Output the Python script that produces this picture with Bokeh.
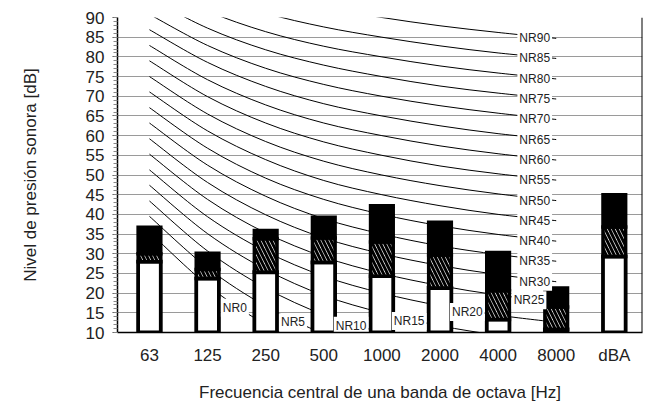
from bokeh.plotting import figure
from bokeh.models import (Range1d, SingleIntervalTicker, FixedTicker,
                          ColumnDataSource, Span)
from bokeh.core.properties import value
from bokeh.embed import file_html
from bokeh.resources import INLINE

# ---------------- data ----------------
categories = ["63", "125", "250", "500", "1000", "2000", "4000", "8000", "dBA"]
white_top = [28.0, 23.7, 25.3, 27.8, 24.3, 21.3, 13.3, 10.8, 29.3]
hatch_top = [30.0, 26.0, 33.8, 34.0, 33.0, 29.7, 20.6, 16.5, 36.8]
black_top = [36.7, 30.1, 35.9, 39.3, 42.2, 38.0, 30.3, 21.3, 45.0]

nr_bands = ["63", "125", "250", "500", "1000", "2000", "4000", "8000"]
nr_levels = [0, 5, 10, 15, 20, 25, 30, 35, 40, 45, 50, 55, 60, 65, 70, 75, 80, 85, 90]
nr_63 = [35.5, 39.5, 43.4, 47.4, 51.3, 55.3, 59.2, 63.2, 67.1, 71.1, 75.0, 79.0, 82.9, 86.9, 90.8, 94.8, 98.7, 102.7, 106.6]
nr_125 = [22.0, 26.4, 30.7, 35.1, 39.4, 43.8, 48.1, 52.5, 56.8, 61.2, 65.5, 69.9, 74.2, 78.6, 82.9, 87.3, 91.6, 96.0, 100.3]
nr_250 = [12.0, 16.7, 21.3, 26.0, 30.6, 35.3, 39.9, 44.6, 49.2, 53.9, 58.5, 63.2, 67.8, 72.5, 77.1, 81.8, 86.4, 91.1, 95.7]
nr_500 = [4.8, 9.7, 14.5, 19.4, 24.3, 29.2, 34.0, 38.9, 43.8, 48.6, 53.5, 58.4, 63.2, 68.1, 73.0, 77.9, 82.7, 87.6, 92.5]
nr_1000 = [0.0, 5.0, 10.0, 15.0, 20.0, 25.0, 30.0, 35.0, 40.0, 45.0, 50.0, 55.0, 60.0, 65.0, 70.0, 75.0, 80.0, 85.0, 90.0]
nr_2000 = [-3.5, 1.6, 6.7, 11.7, 16.8, 21.9, 27.0, 32.0, 37.1, 42.2, 47.3, 52.3, 57.4, 62.5, 67.6, 72.6, 77.7, 82.8, 87.9]
nr_4000 = [-6.1, -1.0, 4.2, 9.3, 14.4, 19.5, 24.7, 29.8, 34.9, 40.0, 45.2, 50.3, 55.4, 60.5, 65.7, 70.8, 75.9, 81.0, 86.2]
nr_8000 = [-8.0, -2.9, 2.3, 7.5, 12.6, 17.8, 22.9, 28.1, 33.2, 38.4, 43.5, 48.7, 53.8, 59.0, 64.1, 69.3, 74.4, 79.6, 84.7]

x_title = "Frecuencia central de una banda de octava [Hz]"
y_title = "Nivel de presión sonora [dB]"

# ---------------- figure ----------------
FONT = "Liberation Sans"
X_START, X_END = -0.55, 8.485
p = figure(width=646, height=404, output_backend="svg", toolbar_location=None,
           x_range=Range1d(X_START, X_END), y_range=Range1d(10, 90),
           min_border_left=117, min_border_right=4, min_border_top=17,
           min_border_bottom=71)
p.outline_line_color = None
p.background_fill_color = "white"
p.border_fill_color = "white"

# x axis
xa = p.xaxis[0]
xa.ticker = FixedTicker(ticks=list(range(len(categories))))
xa.major_label_overrides = {i: c for i, c in enumerate(categories)}
xa.major_tick_line_color = None
xa.minor_tick_line_color = None
xa.major_tick_out = 0
xa.major_tick_in = 0
xa.major_label_standoff = 13
xa.axis_line_color = "black"
xa.axis_line_width = 1.5
xa.major_label_text_font = FONT
xa.major_label_text_font_size = "17px"
xa.major_label_text_color = "#222222"
xa.axis_label = x_title
xa.axis_label_text_font = FONT
xa.axis_label_text_font_size = "17px"
xa.axis_label_text_font_style = "normal"
xa.axis_label_text_color = "#222222"
xa.axis_label_standoff = 15

# y axis
ticker = SingleIntervalTicker(interval=5, num_minor_ticks=5)
ya = p.yaxis[0]
ya.ticker = ticker
ya.axis_line_color = "black"
ya.axis_line_width = 1.5
ya.major_tick_out = 5
ya.major_tick_in = 0
ya.minor_tick_out = 4
ya.minor_tick_in = 0
ya.major_tick_line_color = "#555555"
ya.minor_tick_line_color = "#888888"
ya.major_label_standoff = 8
ya.major_label_text_font = FONT
ya.major_label_text_font_size = "17px"
ya.major_label_text_color = "#222222"
ya.axis_label = y_title
ya.axis_label_text_font = FONT
ya.axis_label_text_font_size = "17px"
ya.axis_label_text_font_style = "normal"
ya.axis_label_text_color = "#222222"
ya.axis_label_standoff = 43

# right frame line
p.add_layout(Span(location=X_END, dimension="height", line_color="black", line_width=2))

p.xgrid.grid_line_color = None
p.ygrid.ticker = ticker
p.ygrid.grid_line_color = "#9a9a9a"
p.ygrid.grid_line_width = 1

# ---------------- NR curves (smooth bezier through the band values) ----------------
bands = [nr_63, nr_125, nr_250, nr_500, nr_1000, nr_2000, nr_4000, nr_8000]
nb = len(bands)
seg = dict(x0=[], y0=[], x1=[], y1=[], cx0=[], cy0=[], cx1=[], cy1=[])
lower_lbl = dict(x=[], y=[], t=[])
upper_lbl = dict(x=[], y=[], t=[])
for k, lvl in enumerate(nr_levels):
    ys = [b[k] for b in bands]
    xs = list(range(nb))
    mids = []
    for i in range(nb - 1):
        im1 = max(i - 1, 0)
        ip2 = min(i + 2, nb - 1)
        cx0 = xs[i] + (xs[i + 1] - xs[im1]) / 6.0
        cy0 = ys[i] + (ys[i + 1] - ys[im1]) / 6.0
        cx1 = xs[i + 1] - (xs[ip2] - xs[i]) / 6.0
        cy1 = ys[i + 1] - (ys[ip2] - ys[i]) / 6.0
        seg["x0"].append(xs[i]); seg["y0"].append(ys[i])
        seg["x1"].append(xs[i + 1]); seg["y1"].append(ys[i + 1])
        seg["cx0"].append(cx0); seg["cy0"].append(cy0)
        seg["cx1"].append(cx1); seg["cy1"].append(cy1)
        mids.append(((xs[i] + 3 * cx0 + 3 * cx1 + xs[i + 1]) / 8.0,
                     (ys[i] + 3 * cy0 + 3 * cy1 + ys[i + 1]) / 8.0))
    name = "NR%d" % lvl
    if lvl < 30:
        j = k + 1  # segment where the label sits
        mx, my = mids[j]
        lower_lbl["x"].append(mx - 0.03); lower_lbl["y"].append(my - 0.3); lower_lbl["t"].append(name)
    else:
        upper_lbl["x"].append(nb - 1 - 0.37); upper_lbl["y"].append(ys[-1]); upper_lbl["t"].append(name)

p.bezier(x0="x0", y0="y0", x1="x1", y1="y1", cx0="cx0", cy0="cy0", cx1="cx1", cy1="cy1",
         source=ColumnDataSource(seg), line_color="black", line_width=1)

# ---------------- bars ----------------
xi = list(range(len(categories)))
bsrc = ColumnDataSource(dict(x=xi, base=[10] * len(xi), w=white_top, h=hatch_top, b=black_top))
BW = 0.39
p.vbar(x="x", bottom="base", top="w", width=BW, source=bsrc, fill_color="white",
       line_color="black", line_width=3.8, line_join="miter")
p.vbar(x="x", bottom="w", top="h", width=BW, source=bsrc, fill_color="white",
       hatch_pattern="\\", hatch_color="black", hatch_scale=8, hatch_weight=3,
       line_color="black", line_width=3.5, line_join="miter")
p.vbar(x="x", bottom="h", top="b", width=BW, source=bsrc, fill_color="black",
       line_color="black", line_width=3.5, line_join="miter")

# ---------------- NR labels ----------------
for d in (lower_lbl, upper_lbl):
    p.text(x="x", y="y", text="t", source=ColumnDataSource(d),
           text_font=value(FONT), text_font_size="12px", text_color="#222222",
           text_align="center", text_baseline="middle",
           background_fill_color="white", padding=2)

open("out.html", "w").write(file_html(p, INLINE))
